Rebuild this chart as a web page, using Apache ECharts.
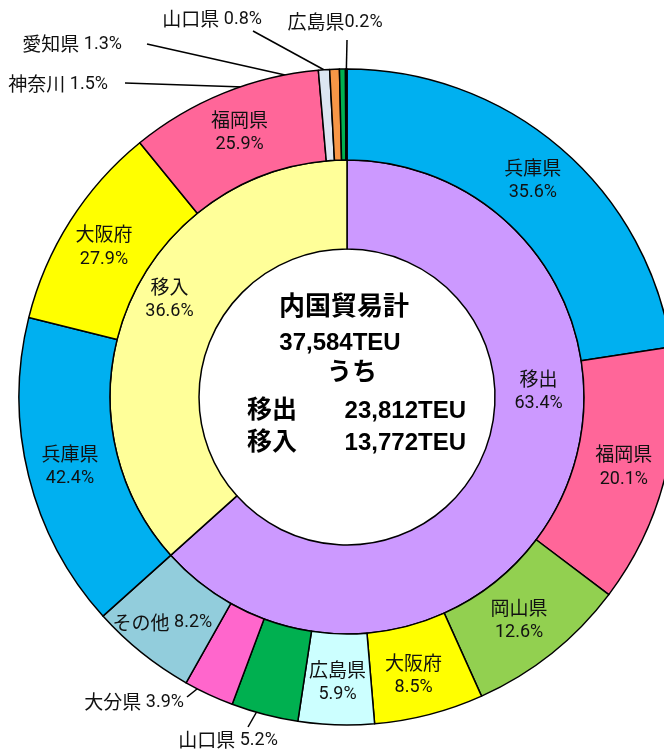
<!DOCTYPE html>
<html>
<head>
<meta charset="utf-8">
<title>内国貿易計</title>
<script src="https://cdn.jsdelivr.net/npm/echarts@6/dist/echarts.min.js"></script>
<style>
  html, body { margin: 0; padding: 0; background: #fff; }
  #main { width: 664px; height: 749px; }
</style>
</head>
<body>
<div id="main"></div>
<script>
// inner ring: 移出 / 移入 (TEU)
var flowNames = ['移出', '移入'];
var flowTeu = [23812, 13772];

// outer ring: share (%) inside each flow
var outNames = ['兵庫県', '福岡県', '岡山県', '大阪府', '広島県', '山口県', '大分県', 'その他'];
var outPct = [35.6, 20.1, 12.6, 8.5, 5.9, 5.2, 3.9, 8.2];
var inNames = ['兵庫県', '大阪府', '福岡県', '神奈川', '愛知県', '山口県', '広島県'];
var inPct = [42.4, 27.9, 25.9, 1.5, 1.3, 0.8, 0.2];

var outColors = ['#00B0F0', '#FF6699', '#92D050', '#FFFF00', '#CCFFFF', '#00B050', '#FF66CC', '#92CDDC'];
var inColors = ['#00B0F0', '#FFFF00', '#FF6699', '#DCE6F2', '#F79646', '#00B050', '#CCFFFF'];
var flowColors = ['#CC99FF', '#FFFF99'];

var cx = 347, cy = 397;
var boldFont = "'Liberation Sans', 'Noto Sans CJK JP', sans-serif";

// label text styles: name / percentage
var rich = {
  n: { fontFamily: "'Noto Sans CJK JP', sans-serif", fontSize: 19, color: '#111', lineHeight: 25 },
  p: { fontFamily: "Roboto, 'Noto Sans CJK JP', sans-serif", fontSize: 18, color: '#111', lineHeight: 25 }
};

// small nudges of inside labels [dx, dy]
var outerNudge = { 2: [-6, 0], 3: [-5, 2], 7: [-6, 3], 9: [-2, 3] };
var innerNudge = { 0: [13, -85], 1: [1, -18] };
// labels placed outside the ring, with leader line
var outside = {
  5:  { x: 228, y: 740, align: 'center', end: [248, 727], r: 297 },
  6:  { x: 184, y: 702, align: 'right', end: [187, 697], r: 302 },
  11: { x: 108, y: 84, align: 'right', end: [125, 83], r: 308 },
  12: { x: 122, y: 44, align: 'right', end: [147, 44], r: 311 },
  13: { x: 262, y: 19, align: 'right', end: [253, 31], r: 317 },
  14: { x: 335, y: 22, align: 'center', end: [347, 40], r: 322 }
};

var total = flowTeu[0] + flowTeu[1];
var names = outNames.concat(inNames);
var pcts = outPct.concat(inPct);
var colors = outColors.concat(inColors);
var values = [];
outPct.forEach(function (p) { values.push(flowTeu[0] * p / 100); });
inPct.forEach(function (p) { values.push(flowTeu[1] * p / 100); });

// mid angles of outer slices (clockwise from 12 o'clock)
var midAngle = [];
var acc = 0;
values.forEach(function (v) {
  midAngle.push((acc + v / 2) / total * 2 * Math.PI);
  acc += v;
});

var outerData = names.map(function (n, i) {
  var d = { name: n, value: values[i], itemStyle: { color: colors[i] } };
  if (outside[i]) {
    d.label = { position: 'outside' };
    d.labelLine = { show: true };
  }
  return d;
});

var innerData = flowNames.map(function (n, i) {
  return { name: n, value: flowTeu[i], itemStyle: { color: flowColors[i] } };
});

function nudge(table) {
  return function (p) {
    var t = table[p.dataIndex];
    if (!t) return {};
    return {
      x: p.labelRect.x + p.labelRect.width / 2 + t[0],
      y: p.labelRect.y + p.labelRect.height / 2 + t[1],
      align: 'center',
      verticalAlign: 'middle'
    };
  };
}

function fmt(n) { return n.toLocaleString('en-US'); }

var myChart = echarts.init(document.getElementById('main'));
var option = {
  animation: false,
  series: [
    {
      type: 'pie',
      center: [cx, cy],
      radius: [148, 237],
      startAngle: 90,
      silent: true,
      percentPrecision: 1,
      avoidLabelOverlap: false,
      itemStyle: { borderColor: '#000', borderWidth: 1.5 },
      label: {
        show: true,
        position: 'inside',
        formatter: '{n|{b}}\n{p|{d}%}',
        rich: rich
      },
      labelLine: { show: false },
      labelLayout: nudge(innerNudge),
      data: innerData
    },
    {
      type: 'pie',
      center: [cx, cy],
      radius: [237, 328],
      startAngle: 90,
      silent: true,
      avoidLabelOverlap: false,
      itemStyle: { borderColor: '#000', borderWidth: 1.5 },
      label: {
        show: true,
        position: 'inside',
        rich: rich,
        formatter: function (p) {
          var i = p.dataIndex;
          var n = '{n|' + p.name + '}', v = '{p|' + pcts[i] + '%}';
          if (i === 14) return n + v;
          if (outside[i] || i === 7) return n + '{p| }' + v;
          return n + '\n' + v;
        }
      },
      labelLine: { show: false, lineStyle: { color: '#000', width: 1.5 } },
      labelLayout: function (p) {
        var o = outside[p.dataIndex];
        if (o) {
          var a = midAngle[p.dataIndex];
          var start = [cx + o.r * Math.sin(a), cy - o.r * Math.cos(a)];
          return {
            x: o.x, y: o.y, align: o.align, verticalAlign: 'middle',
            labelLinePoints: [start, o.end]
          };
        }
        return nudge(outerNudge)(p);
      },
      data: outerData
    }
  ],
  graphic: [
    { type: 'text', x: 344, y: 308, style: { text: '内国貿易計', font: 'bold 26px ' + boldFont, textAlign: 'center', textVerticalAlign: 'middle', fill: '#000' } },
    { type: 'text', x: 340, y: 343, style: { text: fmt(total) + 'TEU', font: 'bold 24px ' + boldFont, textAlign: 'center', textVerticalAlign: 'middle', fill: '#000' } },
    { type: 'text', x: 352, y: 373, style: { text: 'うち', font: 'bold 25px ' + boldFont, textAlign: 'center', textVerticalAlign: 'middle', fill: '#000' } },
    { type: 'text', x: 247, y: 411, style: { text: flowNames[0], font: 'bold 25px ' + boldFont, textAlign: 'left', textVerticalAlign: 'middle', fill: '#000' } },
    { type: 'text', x: 466, y: 411, style: { text: fmt(flowTeu[0]) + 'TEU', font: 'bold 24px ' + boldFont, textAlign: 'right', textVerticalAlign: 'middle', fill: '#000' } },
    { type: 'text', x: 247, y: 443, style: { text: flowNames[1], font: 'bold 25px ' + boldFont, textAlign: 'left', textVerticalAlign: 'middle', fill: '#000' } },
    { type: 'text', x: 466, y: 443, style: { text: fmt(flowTeu[1]) + 'TEU', font: 'bold 24px ' + boldFont, textAlign: 'right', textVerticalAlign: 'middle', fill: '#000' } }
  ]
};
myChart.setOption(option);
</script>
</body>
</html>
